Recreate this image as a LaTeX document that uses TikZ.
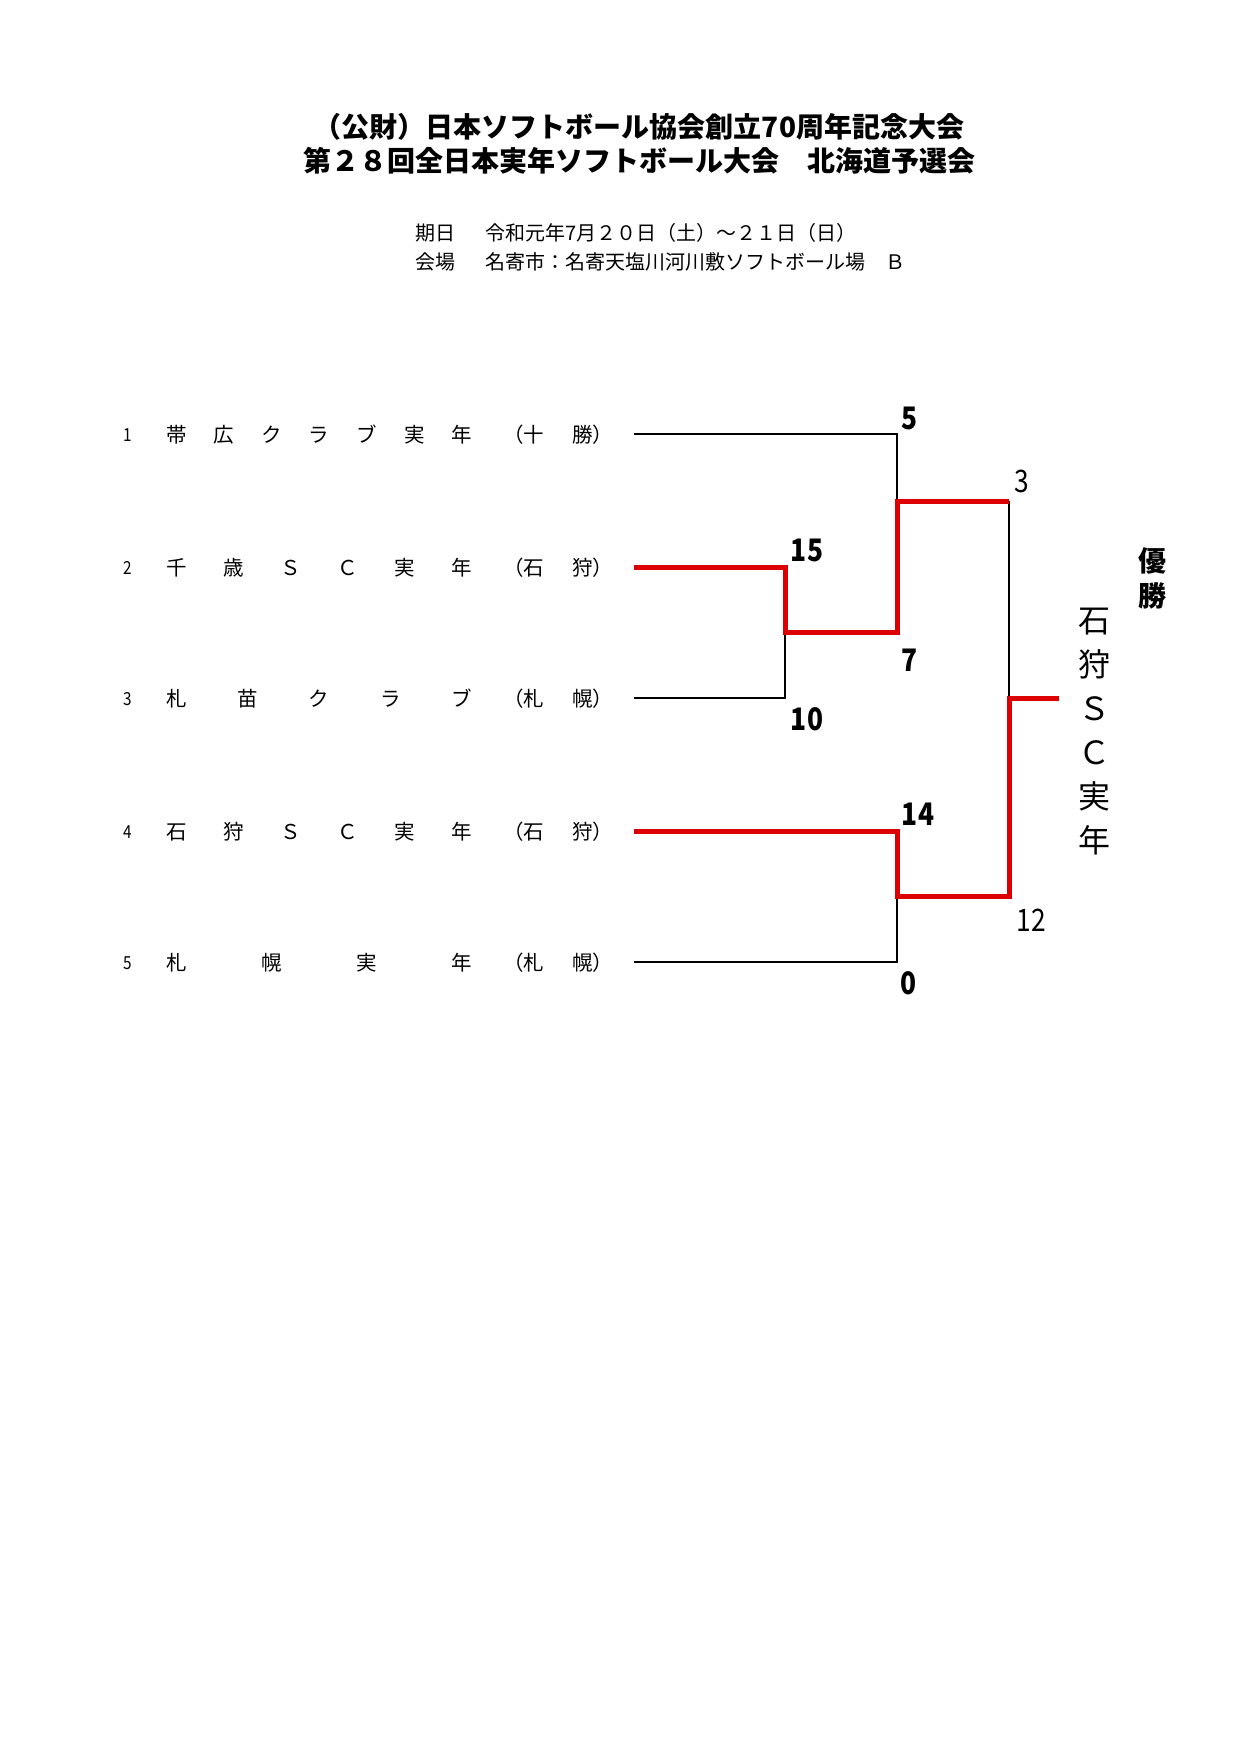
\documentclass[tikz,border=0pt]{standalone}
\usepackage{fontspec}
\setmainfont{Noto Sans CJK JP}
\newfontfamily\narrowjp[FakeStretch=0.85]{Noto Sans CJK JP}
\definecolor{winred}{RGB}{220,0,0}
\begin{document}
\begin{tikzpicture}[x=1pt,y=-1pt,
  title/.style={inner sep=0pt, font=\fontsize{28}{34}\selectfont\bfseries},
  info/.style={anchor=west, inner sep=0pt, font=\fontsize{20}{24}\selectfont},
  team/.style={anchor=west, inner sep=0pt, font=\fontsize{20.5}{24}\selectfont},
  seed/.style={inner sep=0pt, font=\narrowjp\fontsize{18}{20}\selectfont},
  scorebold/.style={inner sep=0pt, font=\narrowjp\fontsize{31}{32}\selectfont\bfseries},
  scorereg/.style={inner sep=0pt, font=\narrowjp\fontsize{31}{32}\selectfont},
  bline/.style={line width=1.5pt, black, line join=miter},
  rline/.style={line width=5pt, winred, line join=miter},
]
\useasboundingbox (0,0) rectangle (1239,1754);

% titles
\node[title] (t1) at (639,127) {（公財）日本ソフトボール協会創立70周年記念大会};
\node[title] (t2) at (639,161) {第２８回全日本実年ソフトボール大会　北海道予選会};

% info
\node[info] (d1) at (415,233) {期日};
\node[info] (d2) at (485,233) {令和元年7月２０日（土）～２１日（日）};
\node[info] (v1) at (415,262) {会場};
\node[info] (v2) at (485,262) {名寄市：名寄天塩川河川敷ソフトボール場　Ｂ};

% seeds
\node[seed] (n1) at (128,435) {1};
\node[seed] (n2) at (128,568) {2};
\node[seed] (n3) at (128,699) {3};
\node[seed] (n4) at (128,832) {4};
\node[seed] (n5) at (128,963) {5};

% team names (distributed)
\node[team] (a1) at (166,435) {\makebox[306pt][s]{帯\hfill 広\hfill ク\hfill ラ\hfill ブ\hfill 実\hfill 年}};
\node[team] (a2) at (166,568) {\makebox[306pt][s]{千\hfill 歳\hfill Ｓ\hfill Ｃ\hfill 実\hfill 年}};
\node[team] (a3) at (166,699) {\makebox[306pt][s]{札\hfill 苗\hfill ク\hfill ラ\hfill ブ}};
\node[team] (a4) at (166,832) {\makebox[306pt][s]{石\hfill 狩\hfill Ｓ\hfill Ｃ\hfill 実\hfill 年}};
\node[team] (a5) at (166,963) {\makebox[306pt][s]{札\hfill 幌\hfill 実\hfill 年}};

% regions
\node[team] (r1) at (503,435) {\makebox[110pt][s]{（十\hfill 勝）}};
\node[team] (r2) at (503,568) {\makebox[110pt][s]{（石\hfill 狩）}};
\node[team] (r3) at (503,699) {\makebox[110pt][s]{（札\hfill 幌）}};
\node[team] (r4) at (503,832) {\makebox[110pt][s]{（石\hfill 狩）}};
\node[team] (r5) at (503,963) {\makebox[110pt][s]{（札\hfill 幌）}};

% bracket coordinates
\coordinate (s1) at (634,434);
\coordinate (s2) at (634,567);
\coordinate (s3) at (634,698);
\coordinate (s4) at (634,831);
\coordinate (s5) at (634,962);
\coordinate (m1) at (897,434);
\coordinate (m2) at (785,567);
\coordinate (m3) at (785,698);
\coordinate (m4) at (897,831);
\coordinate (m5) at (897,962);
\coordinate (q23) at (785,632);
\coordinate (q23r) at (897,632);
\coordinate (q45) at (897,896);
\coordinate (q45r) at (1009,896);
\coordinate (sfa) at (897,501);
\coordinate (sfb) at (1009,501);
\coordinate (fin) at (1009,698);
\coordinate (champ) at (1059,698);

% black lines
\draw[bline] (s1) -- (m1) -- (sfa);
\draw[bline] (s3) -- (m3) -- (q23);
\draw[bline] (s5) -- (m5) -- (q45);
\draw[bline] (sfb) -- (fin);

% red lines (winners)
\draw[rline] (s2) -- (m2) -- (q23) -- (q23r) -- (sfa) -- (sfb);
\draw[rline] (s4) -- (m4) -- (q45) -- (q45r) -- (fin) -- (champ);

% scores
\node[scorebold] (sc5)  at (910,418) {5};
\node[scorereg]  (sc3)  at (1022,481) {3};
\node[scorebold] (sc15) at (807,550) {15};
\node[scorebold] (sc7)  at (910,660) {7};
\node[scorebold] (sc10) at (807,719) {10};
\node[scorebold] (sc14) at (918,814) {14};
\node[scorereg]  (sc12) at (1031,920) {12};
\node[scorebold] (sc0)  at (909,983) {0};

% winner
\node[inner sep=0pt, align=center, font=\fontsize{28}{35}\selectfont\bfseries] (yu) at (1152,578) {優\\勝};
\node[inner sep=0pt, align=center, font=\fontsize{32}{44}\selectfont] (win) at (1094,732) {石\\狩\\Ｓ\\Ｃ\\実\\年};
\end{tikzpicture}
\end{document}
